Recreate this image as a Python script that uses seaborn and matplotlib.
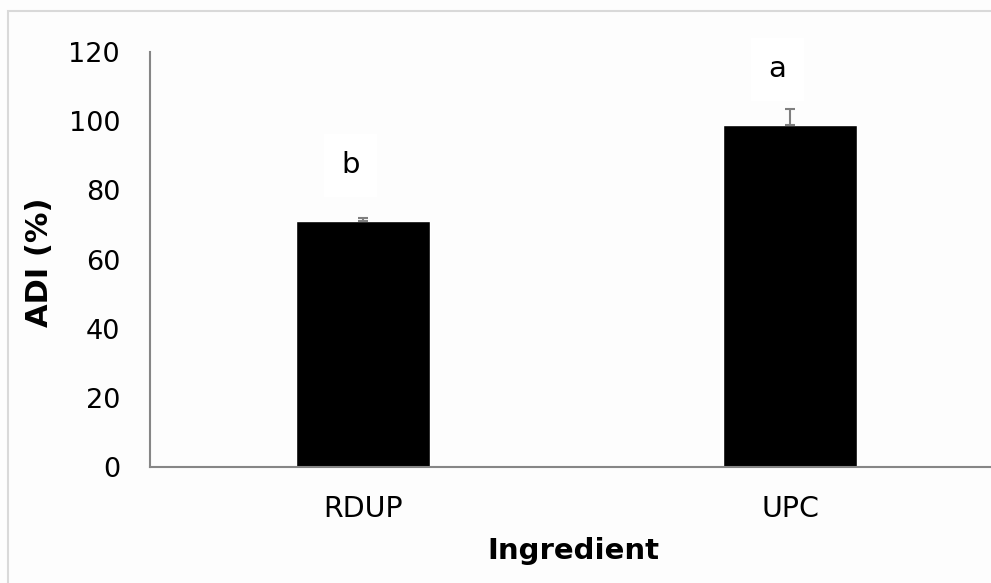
import matplotlib
matplotlib.use("Agg")
import matplotlib.pyplot as plt
import matplotlib.patches as mpatches
import seaborn as sns

# Values
ingredients = ["RDUP", "UPC"]
adi_mean = [71.1, 98.9]
adi_err = [0.8, 4.6]
letters = ["b", "a"]
letter_y = [87.3, 115.0]

sns.set_style("white")
plt.rcParams["font.family"] = ["DejaVu Sans"]
plt.rcParams["text.color"] = "black"
plt.rcParams["axes.labelcolor"] = "black"

fig = plt.figure(figsize=(9.91, 5.83), dpi=100, facecolor="#fdfdfd")
# light frame around the chart area (cropped on the right and bottom)
fig.patches.append(mpatches.Rectangle((8 / 991, -0.1), 1.2, (583 - 11) / 583 + 0.1,
                                      transform=fig.transFigure, fill=False,
                                      edgecolor="#d9d9d9", lw=1.5))
ax = fig.add_axes([150 / 991, 1 - 467 / 583, 853.5 / 991, 415 / 583])
ax.set_facecolor("#fdfdfd")

sns.barplot(x=ingredients, y=adi_mean, color="black", width=0.314,
            errorbar=None, saturation=1, ax=ax)
ax.errorbar(x=range(len(ingredients)), y=adi_mean, yerr=[[0] * len(adi_err), adi_err],
            fmt="none", ecolor="#7f7f7f", elinewidth=1.5, capsize=3.3, capthick=1.5)

for i, (lab, y) in enumerate(zip(letters, letter_y)):
    ax.text(i - 0.03, y, lab, ha="center", va="center", fontsize=21,
            bbox=dict(facecolor="white", edgecolor="none", boxstyle="square,pad=0.6"))

ax.set_xlim(-0.5, 1.5)
ax.set_ylim(0, 120)
ax.set_yticks(range(0, 121, 20))
ax.tick_params(axis="both", length=0, colors="black")
ax.tick_params(axis="y", pad=21.6, labelsize=19.5)
ax.tick_params(axis="x", pad=20, labelsize=20.5)

for side in ["top", "right"]:
    ax.spines[side].set_visible(False)
for side in ["left", "bottom"]:
    ax.spines[side].set_color("#868686")
    ax.spines[side].set_linewidth(1.5)

ax.set_xlabel("Ingredient", fontsize=21, fontweight="bold")
ax.set_ylabel("ADI (%)", fontsize=22, fontweight="bold")
ax.xaxis.set_label_coords((573.5 - 150) / 853.5, (467 - 537) / 415)
ax.yaxis.set_label_coords((54 - 150) / 853.5, (467 - 262) / 415)

fig.savefig("out.png", dpi=100, facecolor=fig.get_facecolor())
